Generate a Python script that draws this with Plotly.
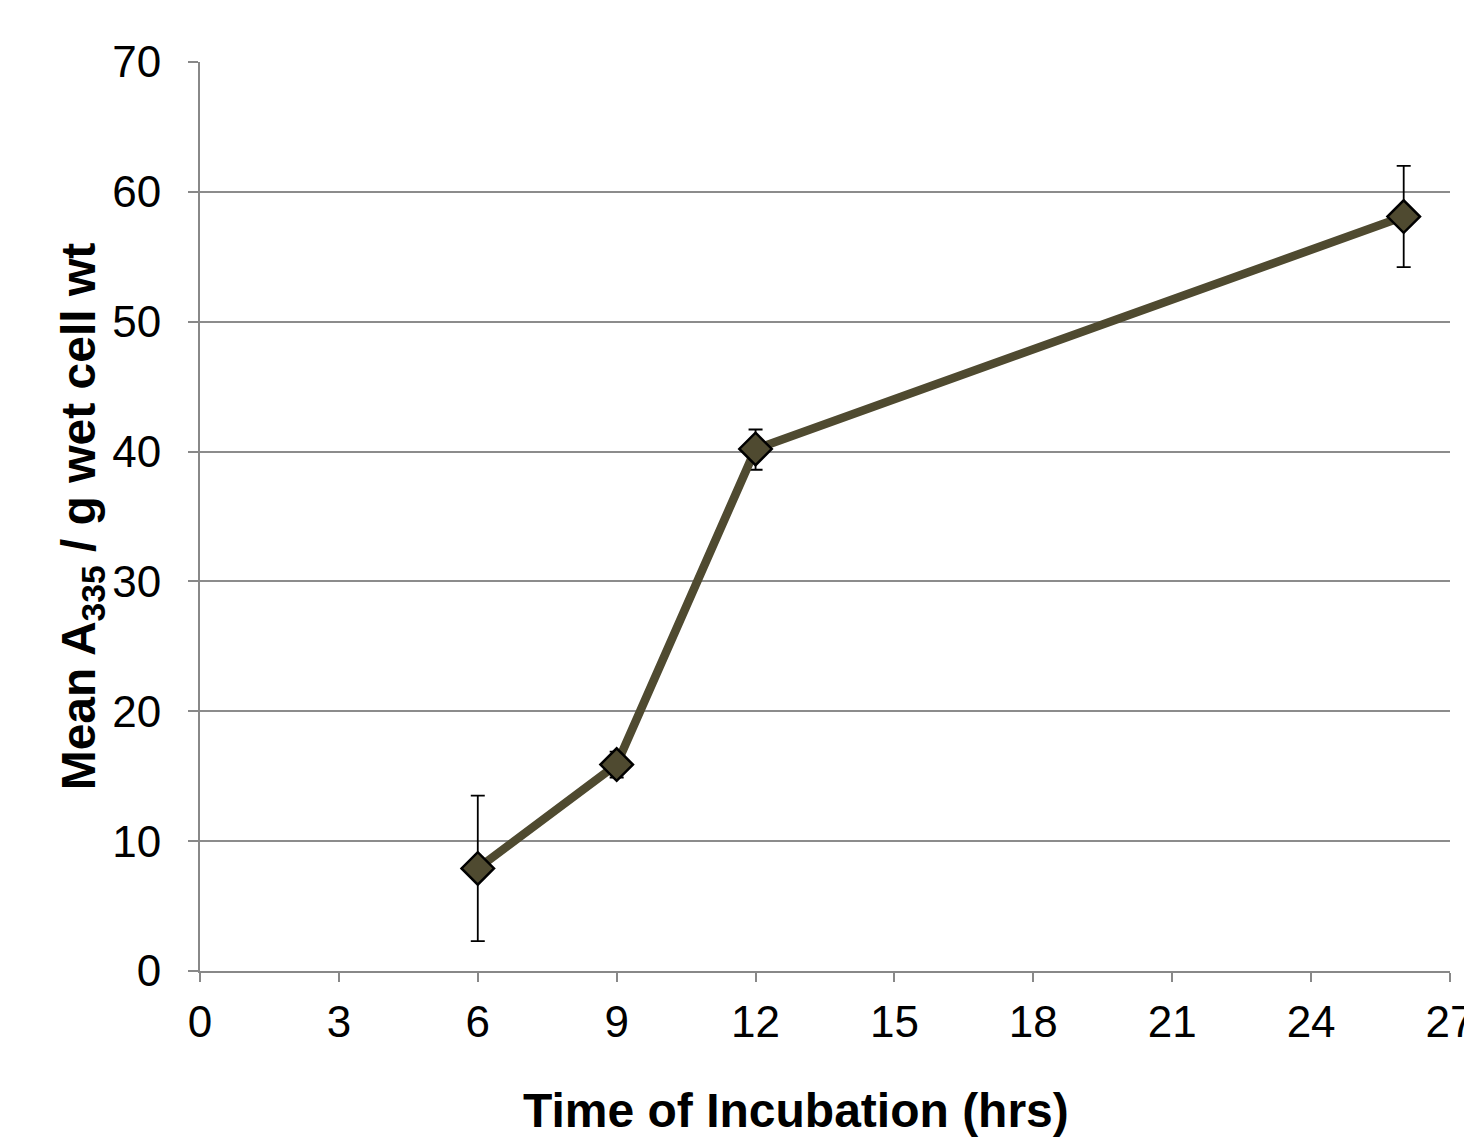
import plotly.graph_objects as go

hours = [6, 9, 12, 26]
mean_a335 = [7.9, 15.9, 40.2, 58.1]
err_plus = [5.6, 1.0, 1.5, 3.9]
err_minus = [5.6, 1.0, 1.6, 3.9]

x_ticks = [0, 3, 6, 9, 12, 15, 18, 21, 24, 27]
y_ticks = [0, 10, 20, 30, 40, 50, 60, 70]

fig = go.Figure()
fig.add_trace(go.Scatter(
    x=hours, y=mean_a335, mode="lines+markers",
    line=dict(color="#4f4a30", width=8.5),
    marker=dict(symbol="diamond", size=25, color="#4f4a30",
                line=dict(color="black", width=2.5)),
    error_y=dict(type="data", symmetric=False, array=err_plus, arrayminus=err_minus,
                 color="black", thickness=1.8, width=7),
    showlegend=False,
))

fig.add_annotation(
    text="<b>Time of Incubation (hrs)</b>", xref="paper", yref="paper",
    x=0.477, y=-0.153, xanchor="center", yanchor="middle", showarrow=False,
    font=dict(size=48, color="black"),
)

fig.update_layout(
    width=1464, height=1143,
    margin=dict(l=200, r=14, t=62, b=172),
    paper_bgcolor="white", plot_bgcolor="white",
    font=dict(family="Liberation Sans, Arial, sans-serif", color="black", size=44),
    xaxis=dict(
        range=[0, 27], tickvals=x_ticks, ticktext=[str(v) for v in x_ticks],
        showgrid=False, zeroline=False, automargin=False,
        showline=True, linecolor="#888888", linewidth=2,
        ticks="outside", tickcolor="#888888", ticklen=9, tickwidth=2,
        ticklabelstandoff=2, ticklabeloverflow="allow",
        tickfont=dict(size=44),
    ),
    yaxis=dict(
        range=[0, 70], tickvals=y_ticks, ticktext=[str(v) for v in y_ticks],
        showgrid=True, gridcolor="#8c8c8c", gridwidth=1.5, zeroline=False,
        automargin=False,
        showline=True, linecolor="#888888", linewidth=2,
        ticks="outside", tickcolor="#888888", ticklen=10, tickwidth=2,
        ticklabelstandoff=18, ticklabeloverflow="allow",
        tickfont=dict(size=44),
        title=dict(text="<b>Mean A<sub>335</sub> / g wet cell wt</b>", font=dict(size=48), standoff=1),
    ),
)

fig.write_html("out.html")
